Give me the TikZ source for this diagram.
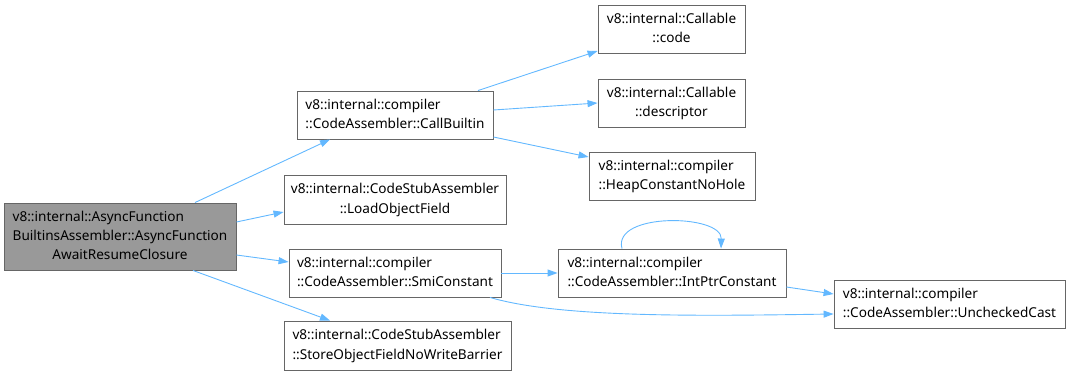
\documentclass[tikz,border=0pt]{standalone}
\usepackage{fontspec}
\setmainfont{Noto Sans}
\usetikzlibrary{arrows.meta,calc}
\definecolor{edgeblue}{HTML}{63B8FF}
\definecolor{boxline}{HTML}{666666}
\definecolor{rootfill}{HTML}{999999}
% label: leading lines flush left, last line centred
\newcommand\fnlabel[2]{\begin{tabular}{@{}l@{}}#1\\\multicolumn{1}{@{}c@{}}{#2}\end{tabular}}
\begin{document}
\begin{tikzpicture}[x=1pt,y=-1pt,
  fn/.style={draw=boxline,line width=0.9pt,fill=white,inner sep=0pt,
    font=\fontsize{13.6}{19.3}\selectfont},
  rootfn/.style={fn,fill=rootfill},
  call/.style={draw=edgeblue,line width=0.9pt,-{Triangle[length=10pt,width=7pt]}}]
\useasboundingbox (0,0) rectangle (1070,377);

% caller
\node[rootfn,minimum width=232,minimum height=67] (root) at (120,236.5)
  {\fnlabel{v8::internal::AsyncFunction\\BuiltinsAssembler::AsyncFunction}{AwaitResumeClosure}};

% direct callees
\node[fn,minimum width=196,minimum height=48] (cb) at (395,115)
  {\fnlabel{v8::internal::compiler}{::CodeAssembler::CallBuiltin}};
\node[fn,minimum width=222,minimum height=49] (lof) at (395,199.5)
  {\fnlabel{v8::internal::CodeStubAssembler}{::LoadObjectField}};
\node[fn,minimum width=212,minimum height=48] (smi) at (395,273)
  {\fnlabel{v8::internal::compiler}{::CodeAssembler::SmiConstant}};
\node[fn,minimum width=227,minimum height=49] (sof) at (397.5,345.5)
  {\fnlabel{v8::internal::CodeStubAssembler}{::StoreObjectFieldNoWriteBarrier}};

% second level
\node[fn,minimum width=147,minimum height=48] (code) at (671.5,29)
  {\fnlabel{v8::internal::Callable}{::code}};
\node[fn,minimum width=147,minimum height=48] (desc) at (671.5,103)
  {\fnlabel{v8::internal::Callable}{::descriptor}};
\node[fn,minimum width=166,minimum height=48] (heap) at (672,176)
  {\fnlabel{v8::internal::compiler}{::HeapConstantNoHole}};
\node[fn,minimum width=228,minimum height=48] (ipc) at (672,273)
  {\fnlabel{v8::internal::compiler}{::CodeAssembler::IntPtrConstant}};
\node[fn,minimum width=231,minimum height=48] (uc) at (949.5,304)
  {\fnlabel{v8::internal::compiler}{::CodeAssembler::UncheckedCast}};

% call edges
\draw[call] (root.north -| 195,0) -- (cb.south -| 330,0);
\draw[call] (root.east |- 0,222) -- (lof.west |- 0,212);
\draw[call] (root.east |- 0,255) -- (smi.west |- 0,262);
\draw[call] (root.south -| 193,0) -- (sof.north -| 330,0);

\draw[call] (cb.north -| 478,0) -- (code.west |- 0,51);
\draw[call] (cb.east |- 0,110) -- (desc.west |- 0,103);
\draw[call] (cb.east |- 0,137) -- (heap.west |- 0,157);

\draw[call] (smi.east) -- (ipc.west);
\draw[call] (smi.south -| 490,0) .. controls (560,318) and (700,316) .. (uc.west |- 0,314);
\draw[call] (ipc.east |- 0,287) -- (uc.west |- 0,294);

% recursive call
\draw[call] (ipc.north -| 622,0) .. controls (612,212) and (722,214) .. (ipc.north -| 721,0);
\end{tikzpicture}
\end{document}
